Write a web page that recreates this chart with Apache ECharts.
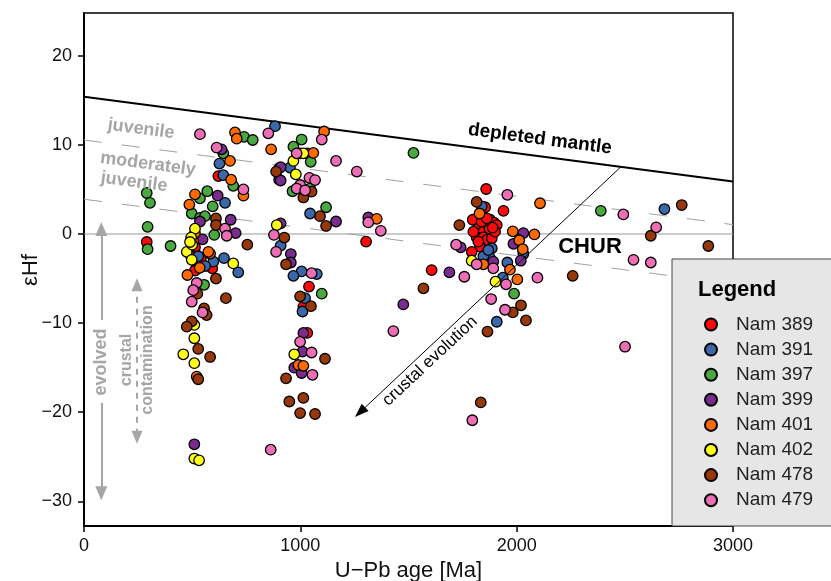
<!DOCTYPE html>
<html>
<head>
<meta charset="utf-8">
<script src="https://cdn.jsdelivr.net/npm/echarts@6/dist/echarts.min.js"></script>
<style>html,body{margin:0;padding:0;background:#fff}#c{width:831px;height:581px}</style>
</head>
<body>
<div id="c"></div>
<script>
// ---- data ----
const sampleNames = ['Nam 389','Nam 391','Nam 397','Nam 399','Nam 401','Nam 402','Nam 478','Nam 479'];
const palette = ['#FF0A0A','#3A68AA','#49A83E','#7A2B8E','#FF6A00','#FFFF1A','#96380A','#EE6EB6'];

const nam389 = [[290,-0.9],[621,6.5],[513,-1.5],[498,-2.4],[521,-3.3],[518,-4.0],[593,-3.85],[495,-2.5],[513,-4.1],[540,-2.8],
 [1032,9.05],[1304,-0.85],[1040,-5.9],[1014,-8.15],[1032,-11.1],[1607,-4.05],[1859,5.05],[1939,2.6],[1854,3.0],[1797,1.6],
 [1877,1.6],[1823,0.64],[1846,0.26],[1869,1.0],[1896,1.27],[1874,0.56],[1815,-0.37],[1846,-0.37],[1862,-0.67],[1885,-0.49],
 [1831,-1.42],[1792,-2.0],[1908,1.0],[1900,0.26],[1800,0.26],[1838,1.38],[1862,1.76],[1889,0.71],[1823,-0.86]];
const nam391 = [[883,12.1],[626,7.9],[644,6.6],[652,3.5],[647,-2.7],[713,-4.3],[598,-3.1],[528,-2.5],[952,7.45],[1045,2.3],
 [909,-1.3],[1006,-4.2],[968,-4.7],[1076,-4.5],[1022,-7.2],[1010,-8.7],[1838,3.1],[1877,-2.7],[1885,-1.6],[2031,-2.25],
 [1957,-3.2],[1936,-4.9],[2683,2.8],[1908,-9.85],[1846,-2.5],[1869,-1.8],[560,-3.6]];
const nam397 = [[290,4.6],[305,3.5],[294,0.8],[294,-1.7],[400,-1.35],[740,10.9],[780,10.55],[644,9.05],[690,5.4],[536,4.0],
 [570,4.8],[595,3.1],[498,2.3],[536,1.8],[559,2.0],[602,-0.1],[555,-5.7],[1006,10.6],[968,9.8],[1048,8.1],[1523,9.1],
 [964,4.8],[1045,5.1],[1119,3.0],[1099,-6.7],[2389,2.6],[1988,-6.7]];
const nam399 = [[636,9.5],[903,7.4],[902,6.1],[618,4.3],[536,1.4],[678,1.6],[701,0.1],[909,7.5],[909,6.0],[1165,1.4],
 [1314,1.85],[909,1.2],[956,-2.25],[956,-3.2],[1689,-4.3],[1476,-7.9],[1014,-11.1],[1010,-13.2],[972,-15.0],[1006,-15.6],
 [510,-23.6],[1741,-1.5],[1892,-3.1],[2031,0.1],[1985,-1.1],[2019,-3.0],[548,-0.6]];
const nam401 = [[698,11.4],[706,10.7],[865,9.5],[675,8.2],[680,6.1],[737,4.3],[513,4.45],[487,3.3],[583,-2.2],[478,-4.6],
 [521,-16.0],[1110,11.5],[1060,9.1],[1353,1.7],[991,-14.7],[1014,-14.8],[2108,3.45],[1828,2.3],[1846,-3.4],[1982,0.3],
 [2082,-0.05],[2012,-0.7],[2028,-1.7],[1969,-4.0],[2003,-5.1],[505,-0.8],[513,0.1],[575,-2.0],[535,-3.8]];
const nam402 = [[513,0.6],[495,-0.4],[690,-3.3],[475,-2.0],[510,-10.2],[510,-11.7],[459,-13.5],[510,-14.5],[510,-25.2],[532,-25.4],
 [999,9.05],[1014,9.05],[968,8.2],[979,6.7],[891,1.0],[972,-13.5],[1792,-3.0],[1902,-5.35],[500,-1.2],[490,-0.9],[498,-2.9]];
const nam478 = [[888,7.0],[610,1.75],[610,1.0],[755,-1.2],[610,-5.0],[524,-6.7],[656,-7.2],[555,-8.35],[567,-9.1],[498,-9.8],
 [475,-10.4],[528,-12.9],[583,-13.8],[528,-16.3],[1014,4.1],[1052,4.75],[1091,2.0],[1119,0.9],[926,-0.4],[934,-3.4],
 [999,-7.0],[1049,-8.1],[1114,-14.0],[934,-16.2],[949,-18.8],[1014,-18.4],[999,-20.1],[1068,-20.2],[1569,-6.1],[1815,3.6],
 [1735,1.0],[2763,3.25],[2620,-0.2],[2259,-4.7],[2020,-8.0],[1982,-8.8],[2043,-9.7],[1865,-10.95],[1834,-18.9],[2886,-1.35]];
const nam479 = [[536,11.2],[852,11.3],[613,9.7],[737,5.0],[652,0.6],[660,-0.2],[521,-5.5],[505,-6.3],[498,-7.6],[548,-8.8],
 [863,-24.2],[1099,10.6],[983,9.05],[1165,8.2],[1261,7.0],[1042,6.3],[1068,6.05],[999,5.5],[983,5.1],[1022,4.9],
 [1314,1.3],[1372,0.35],[878,-0.1],[888,-2.0],[1052,-4.4],[999,-12.1],[1052,-13.3],[1056,-15.8],[1430,-10.9],[1957,4.4],
 [2493,2.2],[2645,0.75],[1720,-1.2],[1815,-3.4],[1892,-3.85],[1951,-5.65],[2096,-4.9],[2540,-2.9],[2620,-3.2],[1882,-7.3],
 [1946,-8.5],[2501,-12.65],[1795,-20.9],[1758,-4.8]];
const sampleData = [nam389,nam391,nam397,nam399,nam401,nam402,nam478,nam479];

// reference lines
const refAge = [0, 3000];
const depletedMantle = [15.4, 5.9];
const juvenileUpper = [10.55, 1.05];
const juvenileLower = [3.9, -5.6];
const chur = [0, 0];
const crustalEvolution = [[2480, 7.5], [1276, -20]];
const evolvedArrow = [[80, -9.65, 0.56], [80, -18.97, -29.1]];   // [age, from, to]
const contaminationArrow = [245, -5.7, -22.8];

const xTicks = [0, 1000, 2000, 3000];
const yTicks = [-30, -20, -10, 0, 10, 20];

// ---- chart ----
const FONT = "'Liberation Sans', Arial, sans-serif";
const chart = echarts.init(document.getElementById('c'), null, {renderer: 'canvas'});
const lineOf = arr => refAge.map((a, i) => [a, arr[i]]);
const gray = '#a6a6a6';
const fmt = v => (v < 0 ? '\u2212' + Math.abs(v) : String(v));

const series = [
  {type:'line', name:'chur', data: lineOf(chur), symbol:'none', silent:true, z:1,
   lineStyle:{color:'#9a9a9a', width:1}},
  {type:'line', name:'juvU', data: lineOf(juvenileUpper), symbol:'none', silent:true, z:1,
   lineStyle:{color:'#a0a0a0', width:1, type:[18,20]}},
  {type:'line', name:'juvL', data: lineOf(juvenileLower), symbol:'none', silent:true, z:1,
   lineStyle:{color:'#a0a0a0', width:1, type:[18,20]}},
  {type:'line', name:'dm', data: lineOf(depletedMantle), symbol:'none', silent:true, z:1,
   lineStyle:{color:'#000', width:2}},
  {type:'line', name:'arrows', data: [], silent:true, z:1,
   markLine:{silent:true, animation:false, label:{show:false}, emphasis:{disabled:true},
     data:[
       [{coord: crustalEvolution[0], symbol:'none'},
        {coord: crustalEvolution[1], symbol:'triangle', symbolSize:[10,14]}],
       [{coord:[evolvedArrow[0][0], evolvedArrow[0][1]], symbol:'none', lineStyle:{color:gray, width:2, type:'solid'}},
        {coord:[evolvedArrow[0][0], evolvedArrow[0][2]], symbol:'triangle', symbolSize:[12,14], lineStyle:{color:gray, width:2, type:'solid'}, itemStyle:{color:gray}}],
       [{coord:[evolvedArrow[1][0], evolvedArrow[1][1]], symbol:'none', lineStyle:{color:gray, width:2, type:'solid'}},
        {coord:[evolvedArrow[1][0], evolvedArrow[1][2]], symbol:'triangle', symbolSize:[12,14], lineStyle:{color:gray, width:2, type:'solid'}, itemStyle:{color:gray}}],
       [{coord:[contaminationArrow[0], contaminationArrow[1]], symbol:'triangle', symbolSize:[11,13], lineStyle:{color:gray, width:2, type:[6,6]}, itemStyle:{color:gray}},
        {coord:[contaminationArrow[0], contaminationArrow[2]], symbol:'triangle', symbolSize:[11,13], lineStyle:{color:gray, width:2, type:[6,6]}, itemStyle:{color:gray}}]
     ],
     lineStyle:{color:'#000', width:1, type:'solid'},
     itemStyle:{color:'#000'}
   }}
];
sampleNames.forEach((n, i) => {
  series.push({
    type:'scatter', name:n, data: sampleData[i], symbol:'circle', symbolSize:10.5, z:3,
    itemStyle:{color: palette[i], borderColor:'#000', borderWidth:1.3, opacity:1},
    emphasis:{disabled:true}
  });
});

const rot = -0.13;
const t = (text, x, y, opts) => Object.assign({
  type:'text', x, y, rotation: 0, z: 30,
  style:{text, x:0, y:0, align:'center', verticalAlign:'middle', font:`bold 19px ${FONT}`, fill:'#000'}
}, opts || {});

const option = {
  animation:false,
  backgroundColor:'#fff',
  grid:{left:84, right:98, top:13, bottom:55, outerBoundsMode:'none', containLabel:false,
    show:true, borderColor:'#000', borderWidth:1.5, backgroundColor:'transparent'},
  xAxis:{type:'value', min:0, max:3000, interval:1000,
    name:'U\u2212Pb age [Ma]', nameLocation:'middle', nameGap:31,
    nameTextStyle:{fontSize:22, color:'#111', fontFamily:FONT},
    axisLine:{show:true, onZero:false, lineStyle:{color:'#000', width:2}},
    axisTick:{show:true, length:6, lineStyle:{color:'#000', width:1.5}, customValues:xTicks},
    axisLabel:{fontSize:18, color:'#111', fontFamily:FONT, margin:11, customValues:xTicks, formatter: fmt},
    splitLine:{show:false}},
  yAxis:{type:'value', min:-32.77, max:24.8,
    axisLine:{show:true, onZero:false, lineStyle:{color:'#000', width:2}},
    axisTick:{show:true, length:6, lineStyle:{color:'#000', width:1.5}, customValues:yTicks},
    axisLabel:{fontSize:18, color:'#111', fontFamily:FONT, margin:12, customValues:yTicks, formatter: fmt},
    splitLine:{show:false}},
  legend:{orient:'vertical', left:699, top:310, itemWidth:12, itemHeight:12, itemGap:6.1,
    data: sampleNames, selectedMode:false, z:40,
    textStyle:{fontSize:19, color:'#222', fontFamily:FONT, padding:[0,0,0,14]}},
  graphic:[
    {type:'rect', z:35, shape:{x:672, y:259, width:170, height:267},
     style:{fill:'#e6e6e6', stroke:'#444', lineWidth:1}},
    {type:'text', z:41, x:698, y:290, style:{text:'Legend', x:0, y:0, align:'left', verticalAlign:'middle', font:`bold 22px ${FONT}`, fill:'#000'}},
    t('\u03b5Hf', 31, 270, {rotation:Math.PI/2, style:{text:'\u03b5Hf', x:0, y:0, align:'center', verticalAlign:'middle', font:`22px ${FONT}`, fill:'#111'}}),
    t('depleted mantle', 540, 139, {rotation:rot}),
    t('CHUR', 590, 247, {style:{text:'CHUR', x:0, y:0, align:'center', verticalAlign:'middle', font:`bold 22px ${FONT}`, fill:'#000'}}),
    t('crustal evolution', 430, 361, {rotation:0.752, style:{text:'crustal evolution', x:0, y:0, align:'center', verticalAlign:'middle', font:`17px ${FONT}`, fill:'#000'}}),
    t('juvenile', 141, 129, {rotation:rot, style:{text:'juvenile', x:0, y:0, align:'center', verticalAlign:'middle', font:`bold 18px ${FONT}`, fill:gray}}),
    t('moderately', 148, 164, {rotation:rot, style:{text:'moderately', x:0, y:0, align:'center', verticalAlign:'middle', font:`bold 18px ${FONT}`, fill:gray}}),
    t('juvenile', 134, 182, {rotation:rot, style:{text:'juvenile', x:0, y:0, align:'center', verticalAlign:'middle', font:`bold 18px ${FONT}`, fill:gray}}),
    t('evolved', 101, 362, {rotation:Math.PI/2, style:{text:'evolved', x:0, y:0, align:'center', verticalAlign:'middle', font:`bold 18px ${FONT}`, fill:gray}}),
    t('crustal', 127, 360, {rotation:Math.PI/2, style:{text:'crustal', x:0, y:0, align:'center', verticalAlign:'middle', font:`bold 16px ${FONT}`, fill:gray}}),
    t('contamination', 148, 360, {rotation:Math.PI/2, style:{text:'contamination', x:0, y:0, align:'center', verticalAlign:'middle', font:`bold 16px ${FONT}`, fill:gray}})
  ],
  series
};
chart.setOption(option);
</script>
</body>
</html>
